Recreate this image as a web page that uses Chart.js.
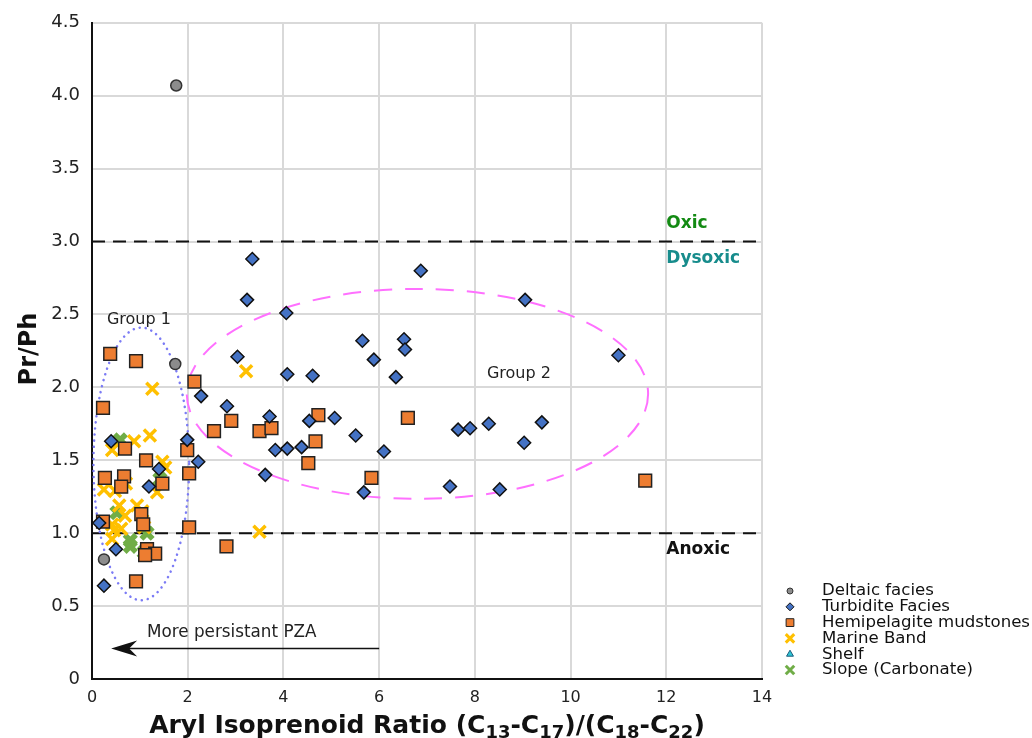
<!DOCTYPE html>
<html>
<head>
<meta charset="utf-8">
<script src="https://cdn.jsdelivr.net/npm/chart.js@4.4.1/dist/chart.umd.min.js"></script>
<style>
  html, body { margin: 0; padding: 0; background: #fff; }
  #wrap { width: 1032px; height: 738px; }
</style>
</head>
<body>
<div id="wrap"><canvas id="c" width="1032" height="738"></canvas></div>
<script>
// ---- data ----
const seriesNames = ['Deltaic facies', 'Turbidite Facies', 'Hemipelagite mudstones', 'Marine Band', 'Shelf', 'Slope (Carbonate)'];

const deltaicX = [1.76, 1.74, 0.25];
const deltaicY = [4.07, 2.16, 0.82];

const turbiditeX = [3.35, 3.24, 4.06, 3.04, 4.08, 4.61, 5.65, 5.89, 2.28, 2.82, 3.71, 4.54, 5.07, 5.51, 1.99, 3.83, 4.08, 4.38, 2.22, 3.62, 5.68, 6.87, 9.05, 6.52, 6.54, 6.35, 11.0, 7.65, 7.90, 8.29, 9.40, 9.03, 6.10, 7.48, 8.52, 0.40, 1.40, 1.19, 0.15, 0.50, 0.25];
const turbiditeY = [2.88, 2.60, 2.51, 2.21, 2.09, 2.08, 2.32, 2.19, 1.94, 1.87, 1.80, 1.77, 1.79, 1.67, 1.64, 1.57, 1.58, 1.59, 1.49, 1.40, 1.28, 2.80, 2.60, 2.33, 2.26, 2.07, 2.22, 1.71, 1.72, 1.75, 1.76, 1.62, 1.56, 1.32, 1.30, 1.63, 1.44, 1.32, 1.07, 0.89, 0.64];

const hemipelagiteX = [0.38, 0.92, 2.14, 0.23, 0.69, 1.99, 1.13, 2.03, 0.27, 0.67, 0.61, 1.47, 0.23, 1.03, 1.07, 2.03, 1.15, 1.32, 1.11, 0.92, 2.91, 2.55, 3.50, 3.75, 4.73, 4.67, 4.52, 5.84, 6.60, 11.56, 2.81];
const hemipelagiteY = [2.23, 2.18, 2.04, 1.86, 1.58, 1.57, 1.50, 1.41, 1.38, 1.39, 1.32, 1.34, 1.08, 1.13, 1.06, 1.04, 0.89, 0.86, 0.85, 0.67, 1.77, 1.70, 1.70, 1.72, 1.81, 1.63, 1.48, 1.38, 1.79, 1.36, 0.91];

const marineX = [1.26, 3.22, 3.50, 1.21, 0.88, 0.42, 1.47, 1.53, 0.71, 0.25, 0.48, 1.36, 0.57, 0.94, 1.05, 0.69, 0.42, 0.61, 0.46, 0.42, 1.09];
const marineY = [1.99, 2.11, 1.01, 1.67, 1.63, 1.57, 1.49, 1.45, 1.34, 1.30, 1.29, 1.28, 1.19, 1.19, 1.15, 1.12, 1.06, 1.03, 1.02, 0.96, 1.04];

const shelfX = [];
const shelfY = [];

const slopeX = [0.59, 1.42, 0.52, 1.15, 0.80, 0.80, 1.09];
const slopeY = [1.64, 1.37, 1.14, 1.00, 0.95, 0.91, 0.87];

const xTicks = [0, 2, 4, 6, 8, 10, 12, 14];
const yTicks = [0, 0.5, 1.0, 1.5, 2.0, 2.5, 3.0, 3.5, 4.0, 4.5];

const redoxLevels = [3.0, 1.0];

// ---- helpers ----
function pts(xs, ys) { return xs.map((x, i) => ({ x: x, y: ys[i] })); }

const FONT = '"DejaVu Sans", Verdana, sans-serif';

const datasets = [
  { label: seriesNames[0], data: pts(deltaicX, deltaicY), pointStyle: 'circle', pointRadius: 5.5,
    backgroundColor: '#8c8c8c', borderColor: '#333', borderWidth: 1.5, legendRadius: 3 },
  { label: seriesNames[1], data: pts(turbiditeX, turbiditeY), pointStyle: 'rectRot', pointRadius: 6.5,
    backgroundColor: '#4472C4', borderColor: '#111', borderWidth: 1.5, legendRadius: 4 },
  { label: seriesNames[2], data: pts(hemipelagiteX, hemipelagiteY), pointStyle: 'rect', pointRadius: 9,
    backgroundColor: '#ED7D31', borderColor: '#222', borderWidth: 1.5, legendRadius: 5.5 },
  { label: seriesNames[3], data: pts(marineX, marineY), pointStyle: 'crossRot', pointRadius: 8.5,
    backgroundColor: '#FFC000', borderColor: '#FFC000', borderWidth: 3.5, legendRadius: 6 },
  { label: seriesNames[4], data: pts(shelfX, shelfY), pointStyle: 'triangle', pointRadius: 6,
    backgroundColor: '#2ec7d6', borderColor: '#1a5a7a', borderWidth: 1, legendRadius: 4 },
  { label: seriesNames[5], data: pts(slopeX, slopeY), pointStyle: 'crossRot', pointRadius: 8,
    backgroundColor: '#70AD47', borderColor: '#70AD47', borderWidth: 5.5, legendRadius: 6 }
];
datasets.forEach(d => { d.pointHoverRadius = d.pointRadius; d.showLine = false; });

function drawMarker(ctx, ds, x, y, r) {
  const opts = { pointStyle: ds.pointStyle, rotation: 0, radius: r, borderWidth: Math.min(ds.borderWidth, ds.pointStyle === 'crossRot' ? 3 : 1) };
  ctx.save();
  ctx.fillStyle = ds.backgroundColor;
  ctx.strokeStyle = ds.borderColor;
  ctx.lineWidth = opts.borderWidth;
  if (Chart.helpers && Chart.helpers.drawPoint) {
    Chart.helpers.drawPoint(ctx, opts, x, y);
  } else {
    ctx.beginPath(); ctx.arc(x, y, r, 0, Math.PI * 2); ctx.fill(); ctx.stroke();
  }
  ctx.restore();
}

const annotations = {
  id: 'annotations',
  beforeDatasetsDraw(chart) {
    const ctx = chart.ctx;
    const xs = chart.scales.x, ys = chart.scales.y;
    const area = chart.chartArea;
    ctx.save();
    // redox threshold lines
    ctx.strokeStyle = '#111';
    ctx.lineWidth = 2;
    ctx.setLineDash([13, 8]);
    redoxLevels.forEach(v => {
      const py = ys.getPixelForValue(v);
      ctx.beginPath(); ctx.moveTo(area.left, py); ctx.lineTo(area.right, py); ctx.stroke();
    });
    function ellipse(cx, cy, rx, ry) {
      const px = xs.getPixelForValue(cx), py = ys.getPixelForValue(cy);
      const rpx = Math.abs(xs.getPixelForValue(cx + rx) - px);
      const rpy = Math.abs(ys.getPixelForValue(cy + ry) - py);
      ctx.beginPath(); ctx.ellipse(px, py, rpx, rpy, 0, 0, Math.PI * 2); ctx.stroke();
    }
    // Group 1 ellipse (dotted blue)
    ctx.strokeStyle = '#7b7bf5';
    ctx.lineWidth = 2.5;
    ctx.lineCap = 'round';
    ctx.setLineDash([0.1, 6]);
    ellipse(1.03, 1.475, 1.0, 0.935);
    // Group 2 ellipse (dashed pink)
    ctx.strokeStyle = '#ff70ff';
    ctx.lineWidth = 2;
    ctx.lineCap = 'butt';
    ctx.setLineDash([18, 13]);
    ellipse(6.8, 1.955, 4.82, 0.72);
    ctx.setLineDash([]);

    // Arrow
    const ay = ys.getPixelForValue(0.21);
    const ax0 = xs.getPixelForValue(6.0), ax1 = xs.getPixelForValue(0.4);
    ctx.strokeStyle = '#111'; ctx.fillStyle = '#111';
    ctx.lineWidth = 1.5;
    ctx.beginPath(); ctx.moveTo(ax0, ay); ctx.lineTo(ax1 + 8, ay); ctx.stroke();
    ctx.beginPath();
    ctx.moveTo(ax1, ay);
    ctx.lineTo(ax1 + 26, ay - 8);
    ctx.lineTo(ax1 + 18, ay);
    ctx.lineTo(ax1 + 26, ay + 8);
    ctx.closePath(); ctx.fill();

    // Texts
    ctx.textBaseline = 'middle';
    ctx.fillStyle = '#222';
    ctx.font = '16.8px ' + FONT;
    ctx.textAlign = 'left';
    ctx.fillText('More persistant PZA', xs.getPixelForValue(1.15), ys.getPixelForValue(0.32));
    ctx.font = '16px ' + FONT;
    ctx.textAlign = 'center';
    ctx.fillText('Group 1', xs.getPixelForValue(0.98), ys.getPixelForValue(2.46));
    ctx.fillText('Group 2', xs.getPixelForValue(8.92), ys.getPixelForValue(2.09));
    ctx.textAlign = 'left';
    ctx.font = 'bold 17px ' + FONT;
    ctx.fillStyle = '#138a13';
    ctx.fillText('Oxic', xs.getPixelForValue(12.0), ys.getPixelForValue(3.12));
    ctx.fillStyle = '#178c8c';
    ctx.fillText('Dysoxic', xs.getPixelForValue(12.0), ys.getPixelForValue(2.88));
    ctx.fillStyle = '#111';
    ctx.fillText('Anoxic', xs.getPixelForValue(12.0), ys.getPixelForValue(0.89));
    ctx.restore();
  },
  afterDraw(chart) {
    const ctx = chart.ctx;
    const area = chart.chartArea;
    ctx.save();
    // Y title
    ctx.fillStyle = '#111';
    ctx.font = 'bold 24px ' + FONT;
    ctx.textAlign = 'center';
    ctx.textBaseline = 'middle';
    ctx.translate(30, 349);
    ctx.rotate(-Math.PI / 2);
    ctx.fillText('Pr/Ph', 0, 0);
    ctx.restore();

    // X title with subscripts
    ctx.save();
    const segs = [['Aryl Isoprenoid Ratio (C', 0], ['13', 1], ['-C', 0], ['17', 1], [')/(C', 0], ['18', 1], ['-C', 0], ['22', 1], [')', 0]];
    const mainFont = 'bold 25px ' + FONT, subFont = 'bold 18px ' + FONT;
    let total = 0;
    segs.forEach(s => { ctx.font = s[1] ? subFont : mainFont; total += ctx.measureText(s[0]).width; });
    let x = (area.left + area.right) / 2 - total / 2;
    const base = 733;
    ctx.fillStyle = '#111';
    ctx.textBaseline = 'alphabetic';
    ctx.textAlign = 'left';
    segs.forEach(s => {
      ctx.font = s[1] ? subFont : mainFont;
      ctx.fillText(s[0], x, base + (s[1] ? 5 : 0));
      x += ctx.measureText(s[0]).width;
    });
    ctx.restore();

    // Legend
    ctx.save();
    ctx.font = '16.6px ' + FONT;
    ctx.textBaseline = 'middle';
    ctx.textAlign = 'left';
    const ly0 = 591, step = 15.8;
    chart.data.datasets.forEach((ds, i) => {
      const y = ly0 + i * step;
      drawMarker(ctx, ds, 790, y, ds.legendRadius);
      ctx.fillStyle = '#111';
      ctx.fillText(ds.label, 822, y);
    });
    ctx.restore();
  }
};

new Chart(document.getElementById('c'), {
  type: 'scatter',
  data: { datasets: datasets },
  options: {
    responsive: false,
    animation: false,
    layout: { padding: { left: 0, right: 270, top: 21, bottom: 0 } },
    plugins: { legend: { display: false }, tooltip: { enabled: false }, title: { display: false } },
    scales: {
      x: {
        type: 'linear', min: 0, max: 14,
        afterBuildTicks(scale) { scale.ticks = xTicks.map(v => ({ value: v })); },
        afterFit(scale) { scale.height = 59; },
        ticks: { color: '#222', font: { family: FONT, size: 16 }, padding: 9, maxRotation: 0,
          callback: v => String(v) },
        grid: { color: '#d9d9d9', lineWidth: 2, drawTicks: false },
        border: { display: true, color: '#111', width: 2 }
      },
      y: {
        type: 'linear', min: 0, max: 4.5,
        afterBuildTicks(scale) { scale.ticks = yTicks.map(v => ({ value: v })); },
        afterFit(scale) { scale.width = 92; },
        ticks: { color: '#222', font: { family: FONT, size: 18 }, padding: 12,
          callback: v => (v === 0 ? '0' : Number(v).toFixed(1)) },
        grid: { color: '#d9d9d9', lineWidth: 2, drawTicks: false },
        border: { display: true, color: '#111', width: 2 }
      }
    }
  },
  plugins: [annotations]
});
</script>
</body>
</html>
